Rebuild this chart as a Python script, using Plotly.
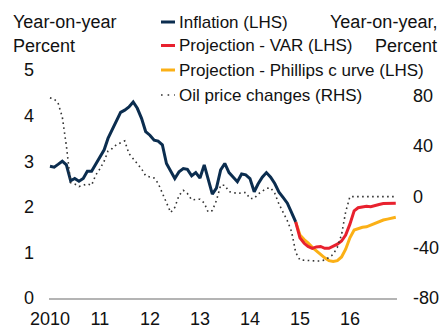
import pandas as pd
import plotly.graph_objects as go

# Monthly CPI inflation, Jan 2010 - Dec 2014 (percent, y/y)
inflation = [2.89, 2.87, 2.93, 3.00, 2.92, 2.57, 2.62, 2.56, 2.62, 2.78,
             2.78, 2.93, 3.08, 3.25, 3.50, 3.70, 3.90, 4.07, 4.12, 4.19,
             4.30, 4.16, 3.94, 3.65, 3.57, 3.46, 3.44, 3.36, 2.95, 2.77,
             2.62, 2.77, 2.84, 2.82, 2.68, 2.75, 2.63, 2.92, 2.59, 2.28,
             2.41, 2.81, 2.95, 2.75, 2.65, 2.55, 2.72, 2.70, 2.62, 2.33,
             2.50, 2.65, 2.75, 2.65, 2.51, 2.32, 2.20, 2.08, 1.87, 1.67]

# Projections, Dec 2014 - Dec 2016 (percent, y/y)
proj_var = [1.67, 1.32, 1.20, 1.13, 1.09, 1.12, 1.13, 1.09, 1.09, 1.13,
            1.18, 1.25, 1.38, 1.62, 1.91, 1.98, 2.00, 2.01, 2.00, 2.03,
            2.05, 2.07, 2.07, 2.08, 2.08]
proj_phillips = [1.67, 1.38, 1.28, 1.21, 1.11, 1.03, 0.95, 0.88, 0.82, 0.80,
                 0.82, 0.90, 1.07, 1.32, 1.49, 1.52, 1.55, 1.56, 1.60, 1.64,
                 1.68, 1.71, 1.73, 1.75, 1.77]

# Oil price changes, Jan 2010 - Dec 2016 (percent, y/y)
oil = [78, 77, 74, 63, 40, 11, 10, 8, 9, 10,
       9, 17, 22, 28, 36, 38, 41, 42.5, 44, 34,
       30, 25.5, 22, 16.5, 15.8, 14.7, 10.6, 3, -3.5, -12.5,
       -8.5, 1, 5, 2.5, -2.5, -2.5, -2, -5, -12, -11,
       -3, 9, 9, 4, 3, 2.5, 3, 3.3, -1.5, -1.5,
       2, 4.5, 6.5, 7, 2.7, -5.9, -12, -19, -27.6, -44,
       -50, -50.3, -50.3, -50.5, -50.8, -50.8, -50, -48, -45.5, -40,
       -30, -12, 0, 0, 0, 0, 0, 0, 0, 0,
       0, 0, 0, 0]

year_ticks = ["2010-01-01", "2011-01-01", "2012-01-01", "2013-01-01",
              "2014-01-01", "2015-01-01", "2016-01-01"]
year_labels = ["2010", "11", "12", "13", "14", "15", "16"]
left_ticks = [0, 1, 2, 3, 4, 5]
right_ticks = [-80, -40, 0, 40, 80]
right_labels = ["-80", "-40", "0", "40", "80"]

dates_hist = pd.date_range("2010-01-01", periods=len(inflation), freq="MS")
dates_proj = pd.date_range("2014-12-01", periods=len(proj_var), freq="MS")
dates_oil = pd.date_range("2010-01-01", periods=len(oil), freq="MS")

NAVY = "#0b2d4f"
RED = "#e8212e"
YELLOW = "#fbb016"
DOT = "#333333"
TEXT = "#111111"
FONT = "Liberation Sans, Arial, sans-serif"

W, H = 441, 332
L, R, T, B = 49, 397, 70, 298


def px(x):
    return (x - L) / (R - L)


def py(y):
    return (B - y) / (B - T)


fig = go.Figure()
fig.add_trace(go.Scatter(x=dates_oil, y=oil, yaxis="y2", mode="lines",
                         line=dict(color=DOT, width=1.6, dash="1.6px,3.4px"),
                         name="Oil price changes (RHS)"))
fig.add_trace(go.Scatter(x=dates_proj, y=proj_phillips, mode="lines",
                         line=dict(color=YELLOW, width=3),
                         name="Projection - Phillips c urve (LHS)"))
fig.add_trace(go.Scatter(x=dates_proj, y=proj_var, mode="lines",
                         line=dict(color=RED, width=3),
                         name="Projection - VAR (LHS)"))
fig.add_trace(go.Scatter(x=dates_hist, y=inflation, mode="lines",
                         line=dict(color=NAVY, width=3),
                         name="Inflation (LHS)"))

# Hand-placed legend
legend_rows = [
    ("Inflation (LHS)", NAVY, 3, "solid", 22),
    ("Projection - VAR (LHS)", RED, 3, "solid", 45.5),
    ("Projection - Phillips c urve (LHS)", YELLOW, 3, "solid", 70),
    ("Oil price changes (RHS)", DOT, 1.6, "dot", 95),
]
shapes = []
annotations = []
for label, color, width, dash, yy in legend_rows:
    shapes.append(dict(type="line", xref="paper", yref="paper",
                       x0=px(161), x1=px(175), y0=py(yy), y1=py(yy),
                       line=dict(color=color, width=width,
                                 dash="1.6px,5px" if dash == "dot" else "solid")))
    annotations.append(dict(text=label, xref="paper", yref="paper",
                            x=px(177), y=py(yy), xanchor="left", yanchor="middle",
                            showarrow=False, font=dict(size=17, color=TEXT, family=FONT)))

for text, x, anchor, yy in [("Year-on-year", 11, "left", 22),
                            ("Percent", 11, "left", 45.5),
                            ("Year-on-year,", 439, "right", 22),
                            ("Percent", 439, "right", 45.5)]:
    annotations.append(dict(text=text, xref="paper", yref="paper",
                            x=px(x), y=py(yy), xanchor=anchor, yanchor="middle",
                            showarrow=False, font=dict(size=18, color=TEXT, family=FONT)))

fig.update_layout(
    width=W, height=H,
    margin=dict(l=L, r=W - R, t=T, b=H - B, pad=0),
    paper_bgcolor="white", plot_bgcolor="white",
    showlegend=False,
    font=dict(family=FONT, size=18, color=TEXT),
    xaxis=dict(type="date", range=["2009-12-25", "2016-12-10"],
               tickvals=year_ticks, ticktext=year_labels, ticks="",
               showgrid=False, zeroline=False, showline=True,
               linecolor="#b4b4b4", linewidth=2, automargin=False,
               tickfont=dict(size=18, color=TEXT), ticklabelstandoff=3),
    yaxis=dict(range=[0, 5], tickvals=left_ticks, ticks="",
               showgrid=False, zeroline=False, showline=False, automargin=False,
               tickfont=dict(size=18, color=TEXT), ticklabelstandoff=14),
    yaxis2=dict(range=[-80, 100], tickvals=right_ticks, ticktext=right_labels,
                ticks="", overlaying="y", side="right", automargin=False,
                showgrid=False, zeroline=False, showline=False,
                tickfont=dict(size=18, color=TEXT), ticklabelstandoff=15),
    shapes=shapes,
    annotations=annotations,
)

fig.write_html("out.html")
